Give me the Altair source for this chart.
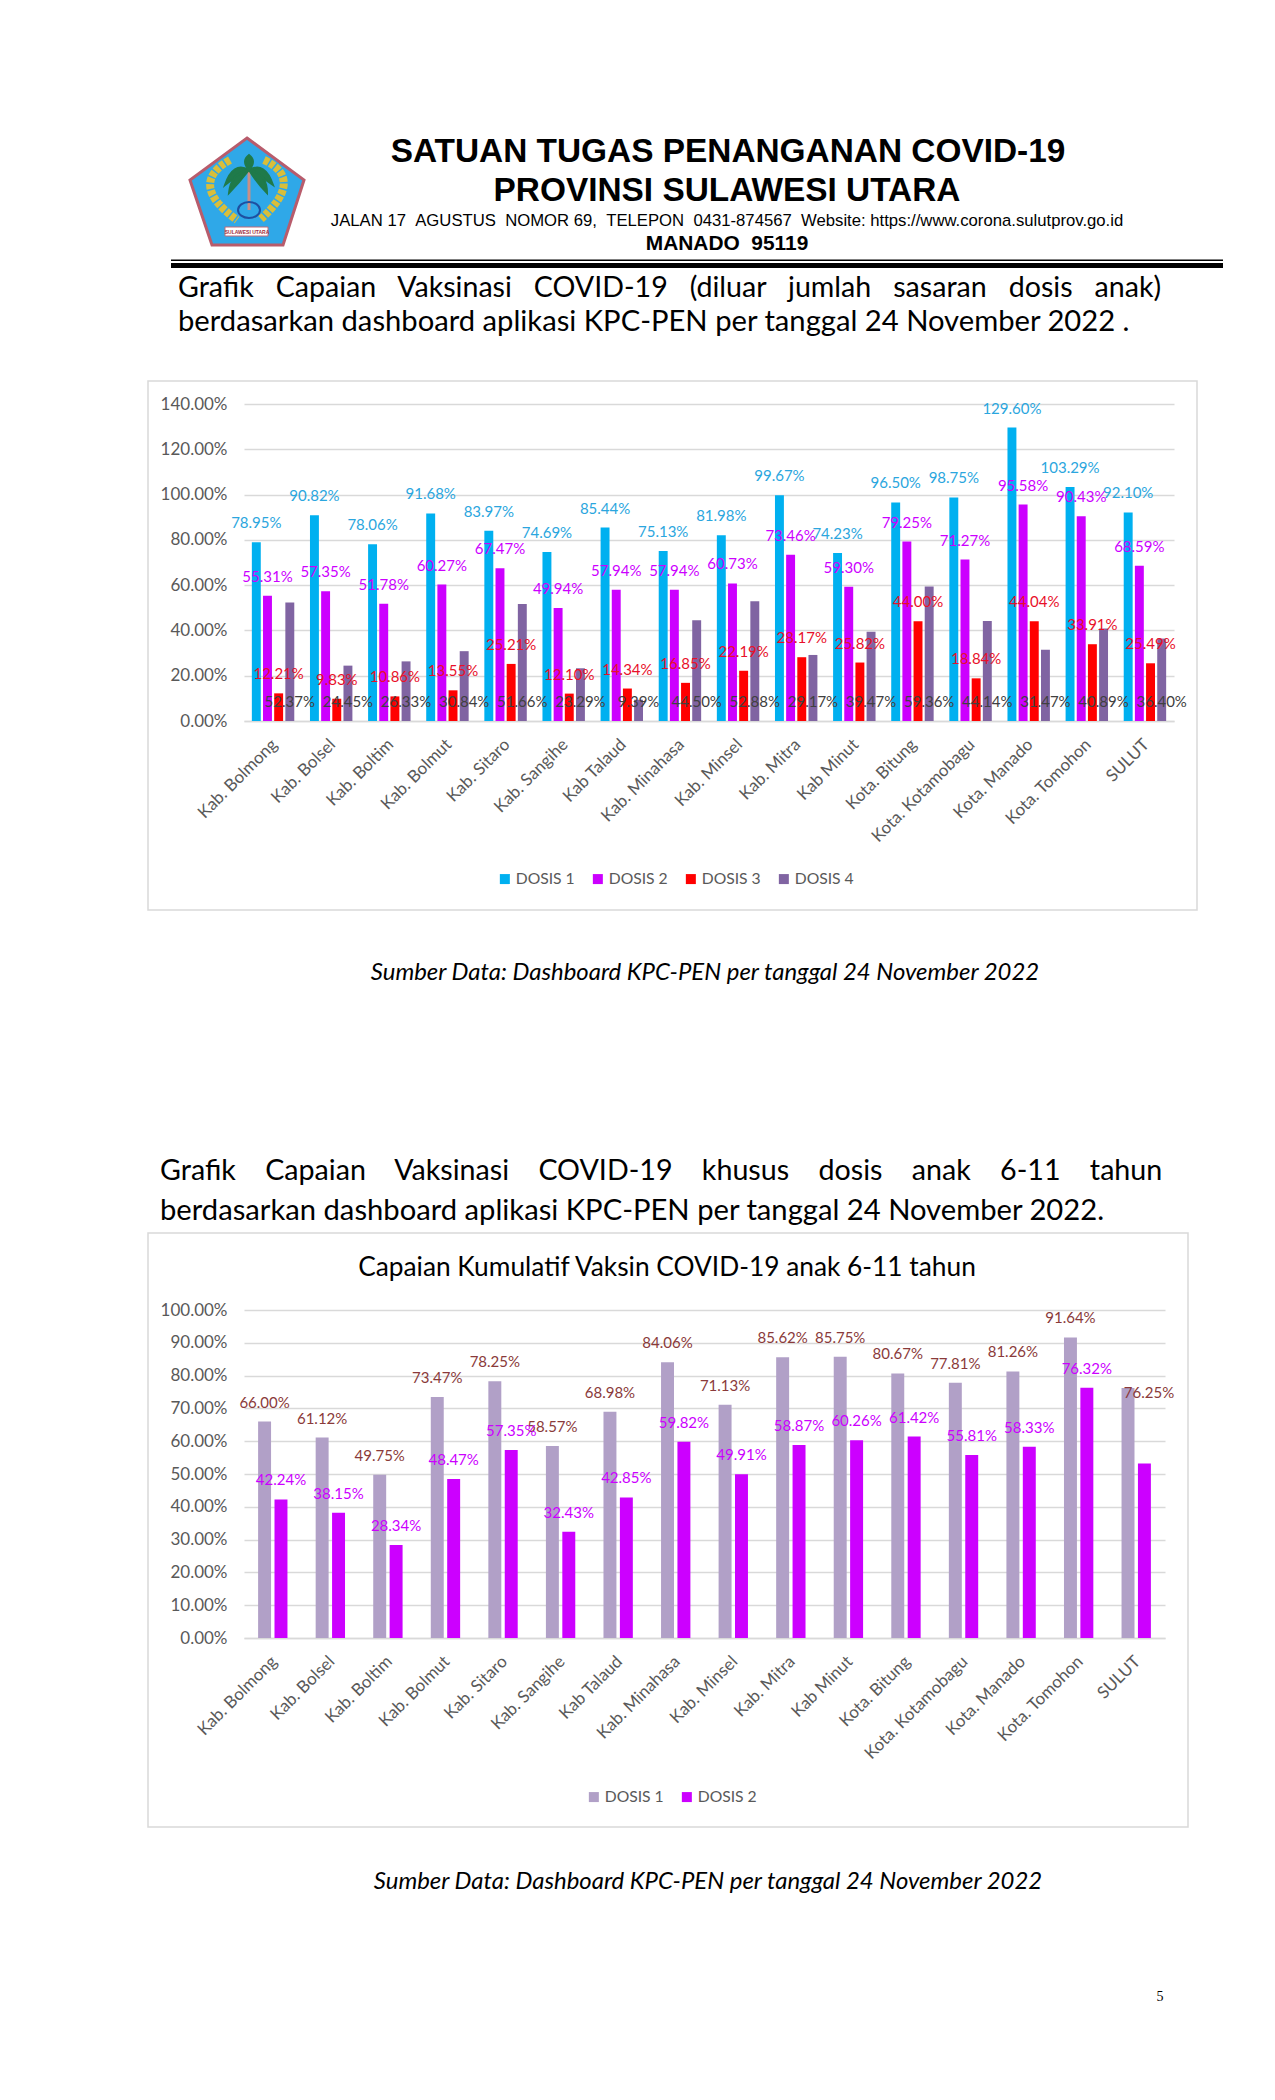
import altair as alt
import pandas as pd

cats = ["Kab. Bolmong", "Kab. Bolsel", "Kab. Boltim", "Kab. Bolmut", "Kab. Sitaro", "Kab. Sangihe",
        "Kab Talaud", "Kab. Minahasa", "Kab. Minsel", "Kab. Mitra", "Kab Minut", "Kota. Bitung",
        "Kota. Kotamobagu", "Kota. Manado", "Kota. Tomohon", "SULUT"]
d1 = [78.95, 90.82, 78.06, 91.68, 83.97, 74.69, 85.44, 75.13, 81.98, 99.67, 74.23, 96.50, 98.75, 129.60, 103.29, 92.10]
d2 = [55.31, 57.35, 51.78, 60.27, 67.47, 49.94, 57.94, 57.94, 60.73, 73.46, 59.30, 79.25, 71.27, 95.58, 90.43, 68.59]
d3 = [12.21, 9.83, 10.86, 13.55, 25.21, 12.10, 14.34, 16.85, 22.19, 28.17, 25.82, 44.00, 18.84, 44.04, 33.91, 25.49]
d4 = [52.37, 24.45, 26.33, 30.84, 51.66, 23.29, 9.39, 44.50, 52.88, 29.17, 39.47, 59.36, 44.14, 31.47, 40.89, 36.40]
a1 = [66.00, 61.12, 49.75, 73.47, 78.25, 58.57, 68.98, 84.06, 71.13, 85.62, 85.75, 80.67, 77.81, 81.26, 91.64, 76.25]
a2 = [42.24, 38.15, 28.34, 48.47, 57.35, 32.43, 42.85, 59.82, 49.91, 58.87, 60.26, 61.42, 55.81, 58.33, 76.32, 53.23]

FONT = "Lato"
GRID = "#D9D9D9"
AXIS_TEXT = "#595959"
one = alt.Data(values=[{"k": 0}])


def frame(series):
    rows = []
    for name, values in series.items():
        for c, v in zip(cats, values):
            rows.append({"cat": c, "series": name, "value": v / 100})
    return pd.DataFrame(rows)


def panel(series, bar_colors, text_colors, ymax, ystep, inner, outer, off_inner, base_series, moved, legend):
    names = list(series)
    df = frame(series)
    x = alt.X("cat:N", sort=cats, title=None,
              scale=alt.Scale(domain=cats, paddingInner=inner, paddingOuter=outer),
              axis=alt.Axis(labelAngle=-45, labelFont=FONT, labelFontSize=17, labelColor=AXIS_TEXT,
                            labelPadding=15, labelOffset=-4, labelLimit=400, labelOverlap=False, ticks=False,
                            domainColor=GRID, domainWidth=1.5, grid=False))
    xo = alt.XOffset("series:N", sort=names, scale=alt.Scale(domain=names, paddingInner=off_inner, paddingOuter=0))
    ticks = [round(i * ystep, 2) for i in range(int(round(ymax / ystep)) + 1)]
    y = alt.Y("value:Q", title=None, scale=alt.Scale(domain=[0, ymax], nice=False),
              axis=alt.Axis(values=ticks, format=".2%", labelFont=FONT, labelFontSize=17, labelColor=AXIS_TEXT,
                            labelPadding=17, ticks=False, domain=False, gridColor=GRID, gridWidth=1.5))
    bars = alt.Chart(df).mark_bar().encode(
        x=x, xOffset=xo, y=y,
        color=alt.Color("series:N", sort=names, scale=alt.Scale(domain=names, range=bar_colors), legend=legend))
    layers = [bars]
    for name, col in zip(names, text_colors):
        sub = df[(df.series == name) & (~df.cat.isin(moved))]
        yy = alt.datum(0) if name == base_series else y
        layers.append(alt.Chart(sub).mark_text(font=FONT, fontSize=15, color=col, dy=-19, baseline="middle", align="center").encode(
            x=x, xOffset=xo, y=yy, text=alt.Text("value:Q", format=".2%")))
    if moved:
        sub = df[(df.series == names[0]) & (df.cat.isin(moved))]
        layers.append(alt.Chart(sub).mark_text(font=FONT, fontSize=15, color=text_colors[0], dx=21, dy=5, baseline="middle", align="center").encode(
            x=x, xOffset=xo, y=y, text=alt.Text("value:Q", format=".2%")))
    return layers


def note(origin, text, px, py, size, font=FONT, color="black", weight="normal", style="normal", align="center"):
    return alt.Chart(one).mark_text(text=text, font=font, fontSize=size, color=color, fontWeight=weight,
                                    fontStyle=style, align=align, baseline="middle").encode(
        x=alt.value(px - origin[0]), y=alt.value(py - origin[1]))


def box(origin, x0, y0, x1, y1, **kw):
    return alt.Chart(one).mark_rect(**kw).encode(
        x=alt.value(x0 - origin[0]), x2=alt.value(x1 - origin[0]),
        y=alt.value(y0 - origin[1]), y2=alt.value(y1 - origin[1]))


def shape(origin, path, px, py, **kw):
    return alt.Chart(one).mark_point(shape=path, size=4, opacity=1, **kw).encode(
        x=alt.value(px - origin[0]), y=alt.value(py - origin[1]))


O1 = (244, 404)
O2 = (244, 1310)
LOGO = (247, 197)
PALM = "#1F7A4A"
GOLD = "#D9BE3A"

logo = [
    shape(O1, "M0,-59L57,-17L36,48L-35,48L-57,-17Z", *LOGO, fill="#2FA8E8", stroke="#B85C6C", strokeWidth=3, filled=True),
    shape(O1, "M-17,-37Q-60,-13 -10,23", *LOGO, stroke=GOLD, strokeWidth=8, strokeDash=[5, 1.5], filled=False),
    shape(O1, "M17,-37Q58,-18 14,22", *LOGO, stroke=GOLD, strokeWidth=8, strokeDash=[5, 1.5], filled=False),
    shape(O1, "M2,13L2,-27", *LOGO, stroke="#C98F86", strokeWidth=3, filled=False),
    shape(O1, "M2,-27Q-14,-36 -22,-12Q-10,-22 2,-27Z", *LOGO, fill=PALM, stroke=PALM, filled=True),
    shape(O1, "M2,-27Q18,-36 26,-12Q12,-22 2,-27Z", *LOGO, fill=PALM, stroke=PALM, filled=True),
    shape(O1, "M2,-27Q-16,-24 -18,-4Q-8,-14 2,-27Z", *LOGO, fill=PALM, stroke=PALM, filled=True),
    shape(O1, "M2,-27Q20,-24 20,-4Q10,-14 2,-27Z", *LOGO, fill=PALM, stroke=PALM, filled=True),
    shape(O1, "M2,-27Q-6,-36 2,-42Q10,-36 2,-27Z", *LOGO, fill=PALM, stroke=PALM, filled=True),
    shape(O1, "M-9,13A11,8 0 1 0 13,13A11,8 0 1 0 -9,13", *LOGO, stroke="#1E4FA0", strokeWidth=2, filled=False),
    shape(O1, "M-22,30L21,30L21,39L-22,39Z", *LOGO, fill="white", stroke="#C06A78", strokeWidth=1, filled=True),
    note(O1, "SULAWESI UTARA", LOGO[0], LOGO[1] + 34.5, 5, color="#A03040", font="Liberation Sans", weight="bold"),
]

header = [
    box(O1, 8, 8, 1267, 2088, fill="white", fillOpacity=0),
    *logo,
    note(O1, "SATUAN TUGAS PENANGANAN COVID-19", 728, 152, 33.4, font="Liberation Sans", weight="bold"),
    note(O1, "PROVINSI SULAWESI UTARA", 727, 191, 33.4, font="Liberation Sans", weight="bold"),
    note(O1, "JALAN 17\u00a0\u00a0AGUSTUS\u00a0\u00a0NOMOR 69,\u00a0\u00a0TELEPON\u00a0\u00a00431-874567\u00a0\u00a0Website: https://www.corona.sulutprov.go.id",
         727, 221, 16.7, font="Liberation Sans"),
    note(O1, "MANADO\u00a0\u00a095119", 727, 244, 20.9, font="Liberation Sans", weight="bold"),
    box(O1, 171, 259.5, 1223, 261, fill="black"),
    box(O1, 171, 263, 1223, 268, fill="black"),
    note(O1, "Grafik\u00a0\u00a0\u00a0Capaian\u00a0\u00a0\u00a0Vaksinasi\u00a0\u00a0\u00a0COVID-19\u00a0\u00a0\u00a0(diluar\u00a0\u00a0\u00a0jumlah\u00a0\u00a0\u00a0sasaran\u00a0\u00a0\u00a0dosis\u00a0\u00a0\u00a0anak)",
         178, 288, 28.6, align="left"),
    note(O1, "berdasarkan dashboard aplikasi KPC-PEN per tanggal 24 November 2022 .", 178, 322, 29.2, align="left"),
    box(O1, 148, 381, 1197, 910, fill="white", fillOpacity=0, stroke=GRID, strokeWidth=1.5),
    note(O1, "Sumber Data: Dashboard KPC-PEN per tanggal 24 November 2022", 705, 973, 23.9, style="italic"),
    note(O1, "Grafik\u00a0\u00a0\u00a0\u00a0Capaian\u00a0\u00a0\u00a0\u00a0Vaksinasi\u00a0\u00a0\u00a0\u00a0COVID-19\u00a0\u00a0\u00a0\u00a0khusus\u00a0\u00a0\u00a0\u00a0dosis\u00a0\u00a0\u00a0\u00a0anak\u00a0\u00a0\u00a0\u00a06-11\u00a0\u00a0\u00a0\u00a0tahun",
         160, 1171, 28.65, align="left"),
    note(O1, "berdasarkan dashboard aplikasi KPC-PEN per tanggal 24 November 2022.", 160, 1211, 29.2, align="left"),
]

legend1 = alt.Legend(title=None, orient="none", legendX=253, legendY=467, direction="horizontal", columns=4,
                     symbolType="square", symbolSize=100, symbolStrokeWidth=0, labelFont=FONT, labelFontSize=15.7,
                     labelColor=AXIS_TEXT, columnPadding=15, labelOffset=3)
legend2 = alt.Legend(title=None, orient="none", legendX=342, legendY=479, direction="horizontal", columns=2,
                     symbolType="square", symbolSize=100, symbolStrokeWidth=0, labelFont=FONT, labelFontSize=15.7,
                     labelColor=AXIS_TEXT, columnPadding=15, labelOffset=3)

p1 = panel({"DOSIS 1": d1, "DOSIS 2": d2, "DOSIS 3": d3, "DOSIS 4": d4},
           ["#00B0F0", "#CC00FF", "#FF0000", "#8064A2"],
           ["#2BA6DE", "#CC00FF", "#E8102A", "#404040"],
           1.4, 0.2, 0.27, 0.135, 0.2, "DOSIS 4", [], legend1)
p2 = panel({"DOSIS 1": a1, "DOSIS 2": a2},
           ["#B1A0C7", "#CC00FF"],
           ["#8A3A3A", "#CC00FF"],
           1.0, 0.1, 0.49, 0.245, 0.21, None, ["SULUT"], legend2)

chart1 = alt.layer(*header, *p1).properties(width=930, height=317)

chart2_extra = [
    box(O2, 148, 1233, 1188, 1827, fill="white", fillOpacity=0, stroke=GRID, strokeWidth=1.5),
    note(O2, "Capaian Kumulatif Vaksin COVID-19 anak 6-11 tahun", 667, 1268, 26.3),
    note(O2, "Sumber Data: Dashboard KPC-PEN per tanggal 24 November 2022", 708, 1882, 23.9, style="italic"),
    note(O2, "5", 1160, 1997, 14, font="Liberation Serif"),
]
chart2 = alt.layer(*chart2_extra, *p2).properties(width=921, height=328)

chart = alt.vconcat(chart1, chart2, spacing=589, bounds="flush").resolve_scale(
    color="independent", xOffset="independent").properties(padding=0).configure_view(stroke=None)

chart.save("out.html", embed_options={"renderer": "svg", "actions": False})
